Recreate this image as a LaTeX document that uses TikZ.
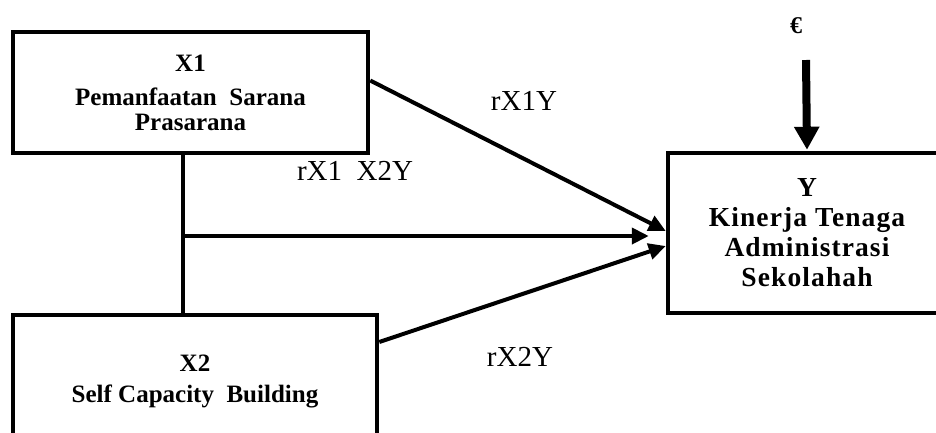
\documentclass[tikz,border=0pt]{standalone}
\usepackage{fontspec}
\setmainfont{Liberation Serif}
\usetikzlibrary{arrows.meta}

\tikzset{
  varbox/.style={draw, line width=4.5pt, align=center, inner sep=0pt,
    font=\bfseries\fontsize{25}{26}\selectfont},
  path/.style={line width=4pt},
  patharrow/.style={path, -{Triangle[length=17pt,width=16pt]}},
  errarrow/.style={line width=8pt, -{Triangle[length=23pt,width=24pt]}},
  coef/.style={font=\fontsize{29}{30}\selectfont, inner sep=0pt},
}

\begin{document}
\begin{tikzpicture}[x=1pt,y=-1pt]
  \useasboundingbox (0,0) rectangle (936,432);
  \clip (0,0) rectangle (936,432);

  % Independent variables
  \node[varbox, minimum width=355pt, minimum height=121pt] (X1) at (190.5,92.5)
    {X1\\[8pt] Pemanfaatan\ \ Sarana\\[-1pt] Prasarana};
  \node[varbox, minimum width=364pt, minimum height=132pt] (X2) at (195,381)
    {X2\\[5pt] Self Capacity\ \ Building};

  % Dependent variable
  \node[varbox, font=\bfseries\fontsize{27.5}{30}\selectfont\addfontfeature{LetterSpace=4},
        minimum width=278pt, minimum height=160pt] (Y) at (807,233)
    {Y\\ Kinerja Tenaga\\ Administrasi\\ Sekolahah};

  % Error term
  \node[font=\bfseries\fontsize{24}{26}\selectfont, inner sep=0pt] (eps) at (796,26) {€};
  \draw[errarrow] ([xshift=10pt,yshift=-34pt]eps.center) -- ([yshift=1pt]Y.north);

  % Joint path of X1 and X2
  \coordinate (j) at (183,236);
  \draw[path] (X1.south -| j) -- (X2.north -| j);
  \draw[patharrow, shorten >=17pt] (j) -- (j -| Y.west);

  % Individual paths
  \draw[patharrow] ([yshift=12pt]X1.east) -- ([yshift=2pt]Y.west);
  \draw[patharrow] ([yshift=39pt]X2.east) -- ([yshift=-13pt]Y.west);

  % Path coefficients
  \node[coef] (c1) at (524,101) {rX1Y};
  \node[coef] (c12) at (355,171) {rX1\ \ X2Y};
  \node[coef] (c2) at (520,357) {rX2Y};
\end{tikzpicture}
\end{document}
